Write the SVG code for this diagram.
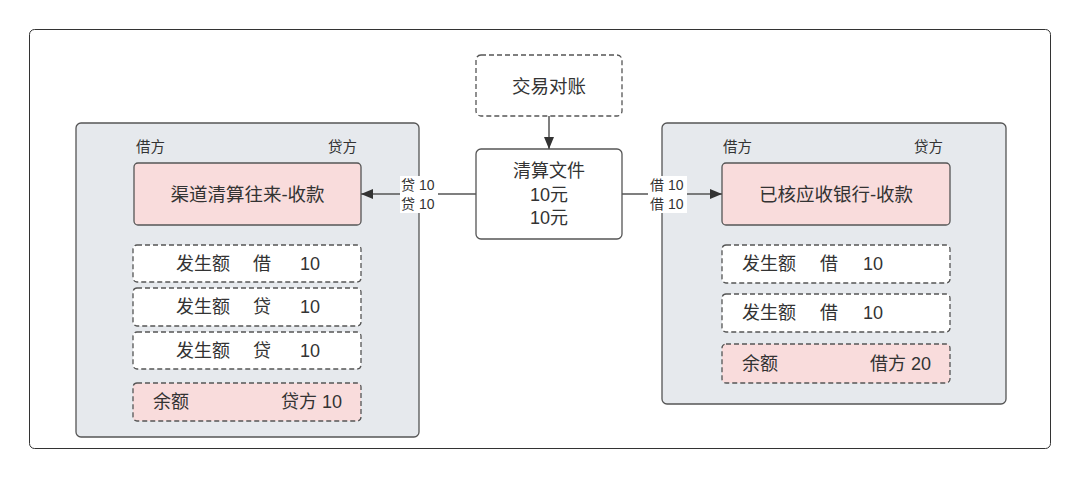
<svg xmlns="http://www.w3.org/2000/svg" width="1080" height="478" viewBox="0 0 1080 478">
<defs>
<style>
text{font-family:"Liberation Sans","Noto Sans CJK SC",sans-serif;fill:#333;dominant-baseline:central}
.frame{fill:#fff;stroke:#333;stroke-width:1}
.cont{fill:#e6e9ed;stroke:#555;stroke-width:1.3}
.title{fill:#f9dcdc;stroke:#555;stroke-width:1.3}
.dash{fill:#fff;stroke:#555;stroke-width:1.3;stroke-dasharray:5 3}
.dashp{fill:#f9dcdc;stroke:#555;stroke-width:1.3;stroke-dasharray:5 3}
.box{fill:#fff;stroke:#555;stroke-width:1.3}
.big{font-size:18.5px}
.mid{font-size:18px}
.hd{font-size:14.5px}
.sm{font-size:14px}
.edge{stroke:#555;stroke-width:1.5;fill:none}
.lbg{fill:#fff}
</style>
<marker id="ah" viewBox="0 0 12 10" refX="12" refY="5" markerWidth="12" markerHeight="10" markerUnits="userSpaceOnUse" orient="auto">
<path d="M0,0 L12,5 L0,10 Z" fill="#333"/>
</marker>
</defs>
<rect x="0" y="0" width="1080" height="478" fill="#fff"/>
<rect class="frame" x="29.5" y="29.5" width="1021" height="419" rx="5"/>

<g id="left-account">
<rect class="cont" x="76" y="123" width="343" height="314" rx="5"/>
<text class="hd" x="136" y="147">借方</text>
<text class="hd" x="357" y="147" text-anchor="end">贷方</text>
</g>
<g id="left-title">
<rect class="title" x="134" y="163" width="227" height="62" rx="4"/>
<text class="big" x="247.5" y="194" text-anchor="middle">渠道清算往来-收款</text>
</g>
<g id="left-row1">
<rect class="dash" x="133" y="245" width="228" height="37" rx="4"/>
<text class="mid" y="264"><tspan x="176">发生额</tspan><tspan x="253">借</tspan><tspan x="300">10</tspan></text>
</g>
<g id="left-row2">
<rect class="dash" x="133" y="288" width="228" height="38" rx="4"/>
<text class="mid" y="307"><tspan x="176">发生额</tspan><tspan x="253">贷</tspan><tspan x="300">10</tspan></text>
</g>
<g id="left-row3">
<rect class="dash" x="133" y="332" width="228" height="37" rx="4"/>
<text class="mid" y="351"><tspan x="176">发生额</tspan><tspan x="253">贷</tspan><tspan x="300">10</tspan></text>
</g>
<g id="left-balance">
<rect class="dashp" x="133" y="383" width="228" height="38" rx="4"/>
<text class="mid" x="153" y="402">余额</text>
<text class="mid" x="342" y="402" text-anchor="end">贷方 10</text>
</g>

<g id="right-account">
<rect class="cont" x="662" y="123" width="344" height="281" rx="5"/>
<text class="hd" x="723" y="147">借方</text>
<text class="hd" x="943" y="147" text-anchor="end">贷方</text>
</g>
<g id="right-title">
<rect class="title" x="722" y="163" width="228" height="62" rx="4"/>
<text class="big" x="836" y="194" text-anchor="middle">已核应收银行-收款</text>
</g>
<g id="right-row1">
<rect class="dash" x="722" y="245" width="228" height="38" rx="4"/>
<text class="mid" y="264"><tspan x="742">发生额</tspan><tspan x="820">借</tspan><tspan x="863">10</tspan></text>
</g>
<g id="right-row2">
<rect class="dash" x="722" y="294" width="228" height="38" rx="4"/>
<text class="mid" y="313"><tspan x="742">发生额</tspan><tspan x="820">借</tspan><tspan x="863">10</tspan></text>
</g>
<g id="right-balance">
<rect class="dashp" x="722" y="344" width="228" height="39" rx="4"/>
<text class="mid" x="742" y="364">余额</text>
<text class="mid" x="931" y="364" text-anchor="end">借方 20</text>
</g>

<g id="reconcile">
<rect class="dash" x="476" y="55" width="146" height="61" rx="5"/>
<text class="big" x="549" y="86" text-anchor="middle">交易对账</text>
</g>
<g id="clearing-file">
<rect class="box" x="476" y="149" width="146" height="90" rx="5"/>
<text class="mid" x="549" y="171" text-anchor="middle">清算文件</text>
<text class="mid" x="549" y="195" text-anchor="middle">10元</text>
<text class="mid" x="549" y="218" text-anchor="middle">10元</text>
</g>

<g id="connectors">
<line class="edge" x1="549" y1="116" x2="549" y2="149" marker-end="url(#ah)"/>
<line class="edge" x1="476" y1="194" x2="361" y2="194" marker-end="url(#ah)"/>
<line class="edge" x1="622" y1="194" x2="722" y2="194" marker-end="url(#ah)"/>
<rect class="lbg" x="400" y="176" width="38" height="37"/>
<text class="sm" x="401" y="185">贷 10</text>
<text class="sm" x="401" y="204">贷 10</text>
<rect class="lbg" x="648" y="176" width="39" height="37"/>
<text class="sm" x="650" y="185">借 10</text>
<text class="sm" x="650" y="204">借 10</text>
</g>
</svg>
